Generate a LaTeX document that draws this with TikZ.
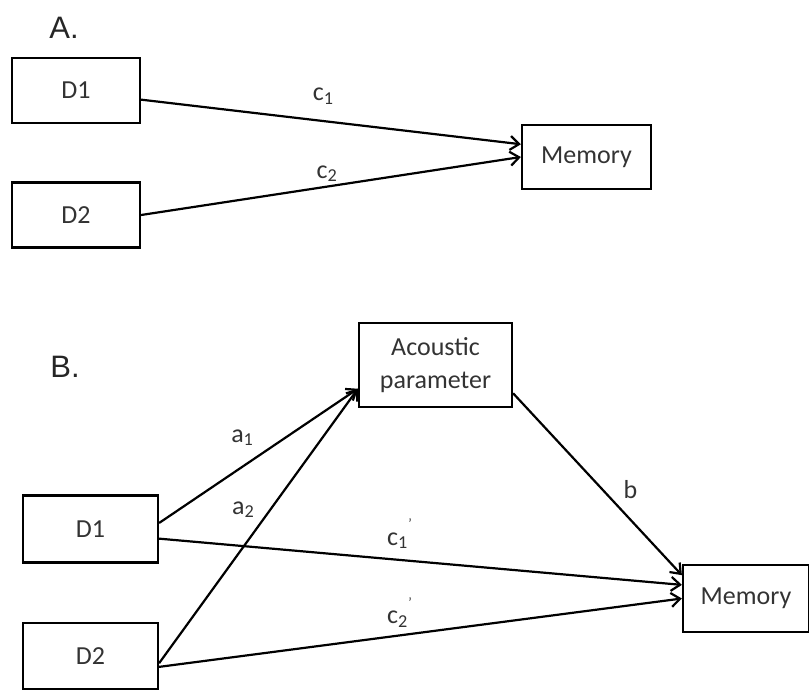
\documentclass[tikz,border=0pt]{standalone}
\usepackage{amsmath}
\usepackage{fontspec}
\setmainfont{Carlito}
\newfontfamily\panelfont{Liberation Sans}
\usetikzlibrary{arrows.meta}

\newcommand{\primed}[2]{#1$_{\text{#2}}$\raisebox{1.3ex}{\fontsize{7}{7}\selectfont '}}

\begin{document}
\begin{tikzpicture}[x=0.5pt, y=-0.5pt,
    var/.style={draw, line width=1.1pt, minimum width=64pt, minimum height=32.5pt, align=center, font=\fontsize{13}{16.5}\selectfont, text=black!80, inner sep=2pt},
    arr/.style={-{Straight Barb[length=4.5pt, width=7pt]}, line width=1.1pt},
    lbl/.style={font=\fontsize{13}{15}\selectfont, text=black!80, inner sep=1pt},
    panel/.style={font=\panelfont\fontsize{15.5}{18}\selectfont, text=black!85}
]
\useasboundingbox (0,0) rectangle (809,691);

% panel A
\node[panel] (labA) at (64,28) {A.};
\node[var] (D1a) at (76,90.5) {D1};
\node[var] (D2a) at (76,215) {D2};
\node[var, minimum width=64.5pt, minimum height=32pt] (MemA) at (586.5,157) {Memory};

\draw[arr] (D1a.-8) -- node[lbl, pos=0.48, yshift=12.5pt] {c$_{\text{1}}$} (MemA.169);
\draw[arr] (D2a.east) -- node[lbl, pos=0.49, yshift=6.5pt] {c$_{\text{2}}$} (MemA.west);

% panel B
\node[panel] (labB) at (65,367) {B.};
\node[var, minimum width=76.5pt, minimum height=42pt] (Acou) at (435.5,365) {Acoustic\\parameter};
\node[var, minimum width=67.5pt, minimum height=33.5pt] (D1b) at (90.5,529) {D1};
\node[var, minimum width=67.5pt, minimum height=33pt] (D2b) at (90.5,656) {D2};
\node[var, minimum width=63pt, minimum height=33.5pt] (MemB) at (746,598.5) {Memory};

\draw[arr] (D1b.5) -- node[lbl, pos=0.42, yshift=14.5pt] {a$_{\text{1}}$} (Acou.197);
\draw[arr] (D2b.-6) -- node[lbl, pos=0.56, xshift=-13.5pt] {a$_{\text{2}}$} (Acou.197);
\draw[arr] (D1b.-8) -- node[lbl, pos=0.46, yshift=13pt] {\primed{c}{1}} (MemB.168);
\draw[arr] (D2b.-9) -- node[lbl, pos=0.46, yshift=11.5pt] {\primed{c}{2}} (MemB.west);
\draw[arr] (Acou.-20) -- node[lbl, pos=0.53, xshift=14pt] {b} (MemB.160);
\end{tikzpicture}
\end{document}
